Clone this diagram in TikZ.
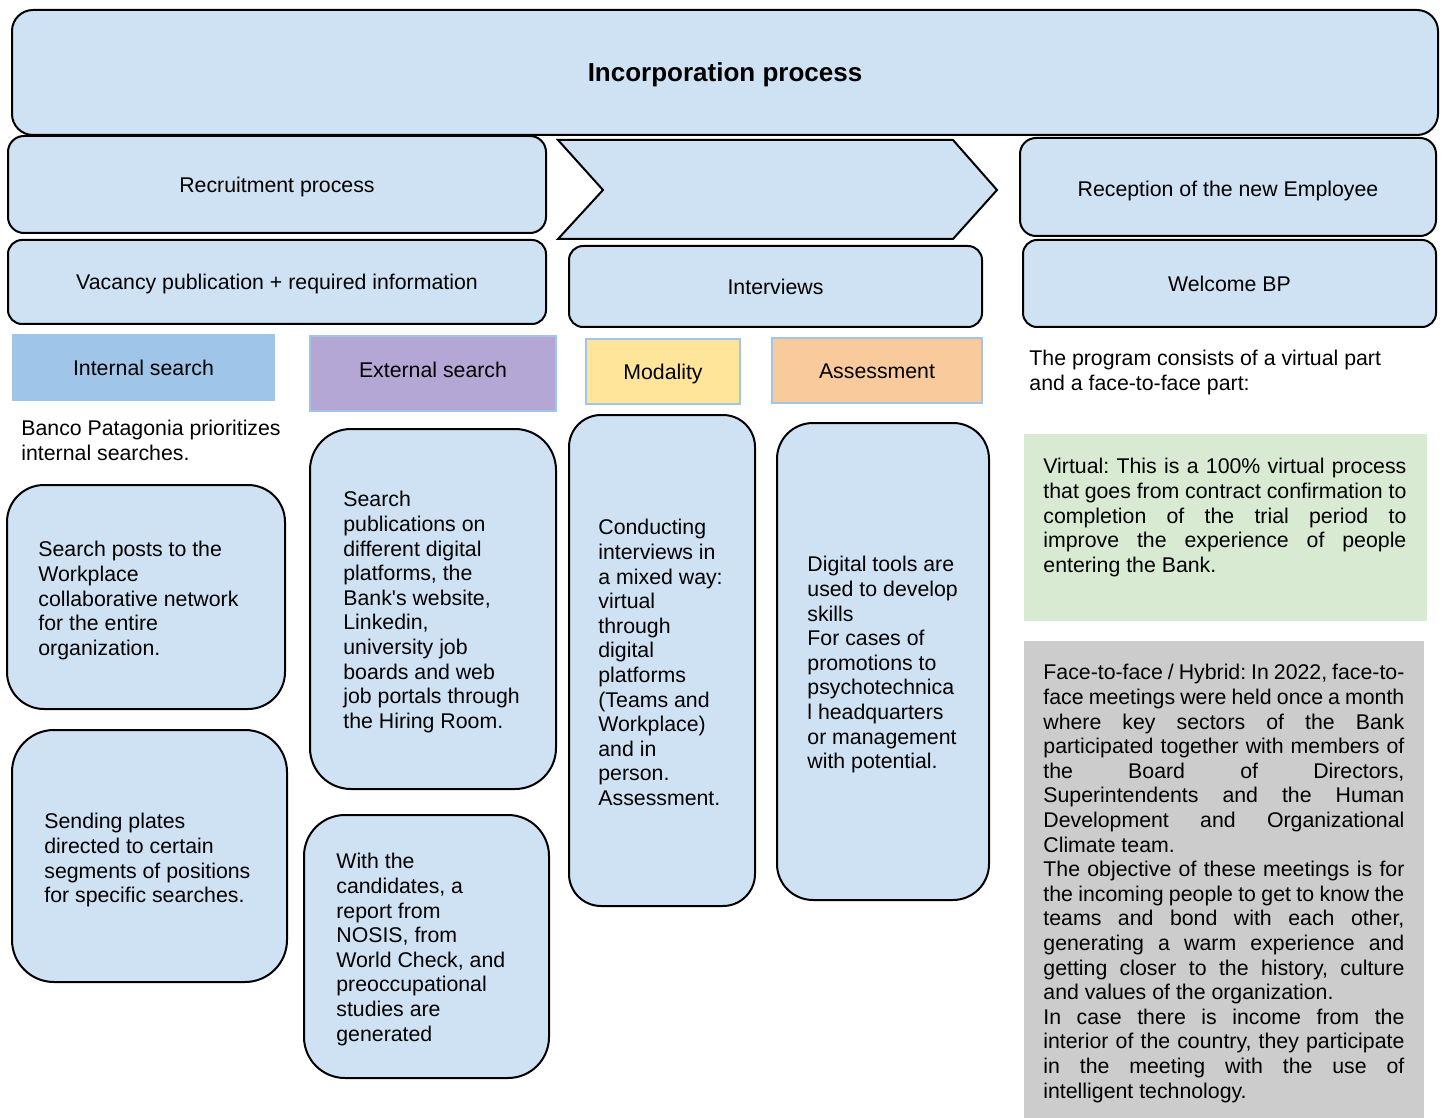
\documentclass[tikz,border=0pt]{standalone}
\usepackage{fontspec}
\setmainfont{Liberation Sans}[Ligatures=TeXOff]
\usetikzlibrary{fit}
\frenchspacing

\definecolor{cardblue}{HTML}{CFE2F3}
\definecolor{tagedge}{HTML}{9FC5E8}
\definecolor{intblue}{HTML}{9FC5E8}
\definecolor{extpurple}{HTML}{B4A7D6}
\definecolor{modyellow}{HTML}{FFE599}
\definecolor{assorange}{HTML}{F9CB9C}
\definecolor{virtgreen}{HTML}{D9EAD3}
\definecolor{facegray}{HTML}{CCCCCC}

\newcommand\bodyfont{\fontsize{10.65}{12.3}\selectfont}
\newcommand\headfont{\fontsize{13}{15}\selectfont\bfseries}
% justified lines of the two text panels
\newcommand\jv[1]{\makebox[181.5pt][s]{#1}}
\newcommand\jg[1]{\makebox[180.5pt][s]{#1}}

\tikzset{
  card/.style={draw=black, line width=1pt, fill=cardblue, inner sep=0pt},
  tagbox/.style={draw=tagedge, line width=1pt, inner sep=0pt},
  lbl/.style={inner sep=0pt, font=\bodyfont, text height=7.6pt, text depth=0pt},
  body/.style={inner sep=0pt, align=left, anchor=north west, font=\bodyfont},
  panel/.style={draw=none, inner sep=0pt},
}

\begin{document}
\begin{tikzpicture}[x=0.5pt,y=-0.5pt]
\useasboundingbox (0,0) rectangle (1446,1118);

% top banner
\node[card, rounded corners=10.5pt, fit={(12,10) (1438,135)}] (title) {};
\node[lbl, font=\headfont, text height=9.3pt] (titletext) at (title.center) {Incorporation process};

% stage headers
\node[card, rounded corners=8pt, fit={(8,136) (546,233)}] (recruit) {};
\node[lbl] (recruittext) at (recruit.center) {Recruitment process};
\node[card, rounded corners=7pt, fit={(8,240) (546,324)}] (vacancy) {};
\node[lbl] (vacancytext) at (vacancy.center) {Vacancy publication + required information};
\draw[card, line join=miter] (558,140) -- (953,140) -- (997,190) -- (953,239)
      -- (558,239) -- (603,190) -- cycle;
\node[card, rounded corners=7pt, fit={(569,246) (982,327)}] (interviews) {};
\node[lbl] (interviewstext) at (interviews.center) {Interviews};
\node[card, rounded corners=8pt, fit={(1020,138) (1436,236)}] (reception) {};
\node[lbl] (receptiontext) at ([yshift=-1pt]reception.center) {Reception of the new Employee};
\node[card, rounded corners=7pt, fit={(1023,240) (1436,327)}] (welcome) {};
\node[lbl] (welcometext) at (welcome.center) {Welcome BP};

% coloured tags
\node[tagbox, fill=intblue, fit={(13,335) (274,400)}] (internal) {};
\node[lbl] (internaltext) at (internal.center) {Internal search};
\node[tagbox, fill=extpurple, fit={(310,336) (556,411)}] (external) {};
\node[lbl] (externaltext) at ([yshift=2pt]external.center) {External search};
\node[tagbox, fill=modyellow, fit={(586,339) (740,404)}] (modality) {};
\node[lbl] (modalitytext) at (modality.center) {Modality};
\node[tagbox, fill=assorange, fit={(772,338) (982,403)}] (assessment) {};
\node[lbl] (assessmenttext) at (assessment.center) {Assessment};

% free notes
\node[body] (bancotext) at (21,420) {Banco Patagonia prioritizes\\internal searches.};
\node[body] (programtext) at (1029,350) {The program consists of a virtual part\\and a face-to-face part:};

% internal search cards
\node[card, rounded corners=18.5pt, fit={(7,485) (285,709)}] (posts) {};
\node[body] (poststext) at (38,541) {Search posts to the\\Workplace\\collaborative network\\for the entire\\organization.};
\node[card, rounded corners=21pt, fit={(12,730) (287,982)}] (plates) {};
\node[body] (platestext) at (44,813) {Sending plates\\directed to certain\\segments of positions\\for specific searches.};

% external search cards
\node[card, rounded corners=20.5pt, fit={(310,429) (556,789)}] (publish) {};
\node[body] (publishtext) at (343,491) {Search\\publications on\\different digital\\platforms, the\\Bank's website,\\Linkedin,\\university job\\boards and web\\job portals through\\the Hiring Room.};
\node[card, rounded corners=20.5pt, fit={(304,815) (549,1078)}] (nosis) {};
\node[body] (nosistext) at (336,853) {With the\\candidates, a\\report from\\NOSIS, from\\World Check, and\\preoccupational\\studies are\\generated};

% interview cards
\node[card, rounded corners=16pt, fit={(569,415) (755,906)}] (conduct) {};
\node[body] (conducttext) at (598,519) {Conducting\\interviews in\\a mixed way:\\virtual\\through\\digital\\platforms\\(Teams and\\Workplace)\\and in\\person.\\Assessment.};
\node[card, rounded corners=18pt, fit={(777,423) (989,900)}] (tools) {};
\node[body] (toolstext) at (807,556) {Digital tools are\\used to develop\\skills\\For cases of\\promotions to\\psychotechnica\\l headquarters\\or management\\with potential.};

% welcome programme panels
\node[panel, fill=virtgreen, fit={(1024,434) (1427,621)}] (virtual) {};
\node[body] (virtualtext) at (1043,458) {%
\jv{Virtual: This is a 100\% virtual process}\\
\jv{that goes from contract confirmation to}\\
\jv{completion of the trial period to}\\
\jv{improve the experience of people}\\
entering the Bank.};

\node[panel, fill=facegray, fit={(1024,641) (1424,1125)}] (facetoface) {};
\node[body] (facetext) at (1043,664) {%
\jg{Face-to-face / Hybrid: In 2022, face-to-}\\
\jg{face meetings were held once a month}\\
\jg{where key sectors of the Bank}\\
\jg{participated together with members of}\\
\jg{the Board of Directors,}\\
\jg{Superintendents and the Human}\\
\jg{Development and Organizational}\\
Climate team.\\
\jg{The objective of these meetings is for}\\
\jg{the incoming people to get to know the}\\
\jg{teams and bond with each other,}\\
\jg{generating a warm experience and}\\
\jg{getting closer to the history, culture}\\
and values of the organization.\\
\jg{In case there is income from the}\\
\jg{interior of the country, they participate}\\
\jg{in the meeting with the use of}\\
intelligent technology.};
\end{tikzpicture}
\end{document}
